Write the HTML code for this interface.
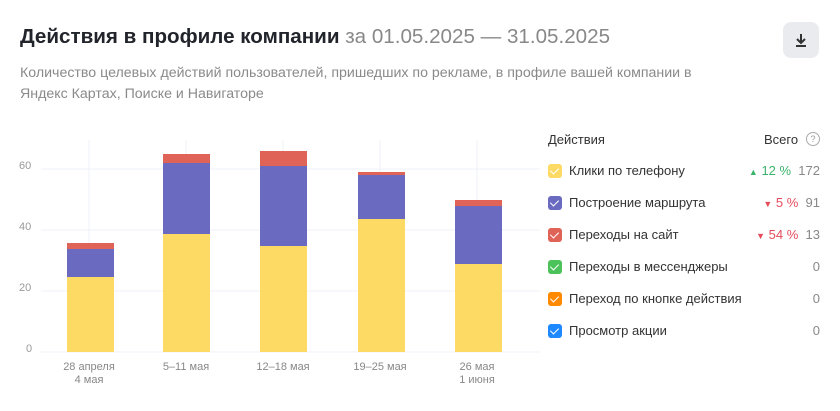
<!DOCTYPE html>
<html><head><meta charset="utf-8"><style>
body{margin:0;width:840px;height:411px;background:#fff;font-family:"Liberation Sans",sans-serif;position:relative;overflow:hidden}
.a{position:absolute;white-space:nowrap}
.t{left:20px;top:25px;font-size:20.6px;font-weight:bold;color:#21242b}
.t span{font-weight:normal;color:#888}
.s{left:20px;top:63px;font-size:14.2px;color:#8a8a8a;line-height:21px;white-space:normal;width:700px}
.btn{left:783px;top:22px;width:36px;height:36px;border-radius:8px;background:#e9ebef}
.yl{font-size:11px;color:#999;left:24px}
.xl{font-size:11px;color:#888;text-align:center;width:100px;line-height:13px}
.lh{font-size:13px;color:#333}
.cb{width:14px;height:14px;border-radius:3px;left:548px}
.cb:after{content:"";position:absolute;left:4px;top:2px;width:4px;height:7px;border:solid #fff;border-width:0 1.5px 1.5px 0;transform:rotate(45deg)}
.ln{left:569px;font-size:13px;color:#333}
.v{right:20px;font-size:13px;color:#888;text-align:right}
.up{color:#3bb36a}.dn{color:#e54b5b}
</style></head><body>
<div class="a t">Действия в профиле компании <span>за 01.05.2025 — 31.05.2025</span></div>
<div class="a s">Количество целевых действий пользователей, пришедших по рекламе, в профиле вашей компании в Яндекс Картах, Поиске и Навигаторе</div>
<div class="a btn"><svg width="36" height="36"><path d="M18 12v9M14 17l4 4 4-4M13 24h10" stroke="#333" stroke-width="2" fill="none"/></svg></div>
<svg class="a" style="left:0;top:0" width="540" height="411">
<g stroke="#eef1f8" stroke-width="1">
<line x1="41" x2="540" y1="169" y2="169"/><line x1="41" x2="540" y1="230" y2="230"/><line x1="41" x2="540" y1="291" y2="291"/><line x1="41" x2="540" y1="352" y2="352"/>
<line x1="89" x2="89" y1="140" y2="352"/><line x1="186" x2="186" y1="140" y2="352"/><line x1="283" x2="283" y1="140" y2="352"/><line x1="380" x2="380" y1="140" y2="352"/><line x1="477" x2="477" y1="140" y2="352"/>
</g>
<g>
<rect x="67" y="277" width="47" height="75" fill="#fdda63"/><rect x="67" y="249" width="47" height="28" fill="#6a6bc0"/><rect x="67" y="243" width="47" height="6" fill="#e06358"/>
<rect x="163" y="234" width="47" height="118" fill="#fdda63"/><rect x="163" y="163" width="47" height="71" fill="#6a6bc0"/><rect x="163" y="154" width="47" height="9" fill="#e06358"/>
<rect x="260" y="246" width="47" height="106" fill="#fdda63"/><rect x="260" y="166" width="47" height="80" fill="#6a6bc0"/><rect x="260" y="151" width="47" height="15" fill="#e06358"/>
<rect x="358" y="219" width="47" height="133" fill="#fdda63"/><rect x="358" y="175" width="47" height="44" fill="#6a6bc0"/><rect x="358" y="172" width="47" height="3" fill="#e06358"/>
<rect x="455" y="264" width="47" height="88" fill="#fdda63"/><rect x="455" y="206" width="47" height="58" fill="#6a6bc0"/><rect x="455" y="200" width="47" height="6" fill="#e06358"/>
</g></svg>
<div class="a yl" style="top:160px;left:19px">60</div>
<div class="a yl" style="top:221px;left:19px">40</div>
<div class="a yl" style="top:282px;left:19px">20</div>
<div class="a yl" style="top:343px;left:26px">0</div>
<div class="a xl" style="left:39px;top:361px">28 апреля<br>4 мая</div>
<div class="a xl" style="left:136px;top:361px">5–11 мая</div>
<div class="a xl" style="left:233px;top:361px">12–18 мая</div>
<div class="a xl" style="left:330px;top:361px">19–25 мая</div>
<div class="a xl" style="left:427px;top:361px">26 мая<br>1 июня</div>
<div class="a lh" style="left:548px;top:132px">Действия</div>
<div class="a lh" style="left:764px;top:132px">Всего</div>
<div class="a" style="left:806px;top:132px;width:12px;height:12px;border:1px solid #aaa;border-radius:50%;font-size:9px;color:#999;text-align:center;line-height:12px">?</div>
<div class="a cb" style="top:164px;background:#fdda63"></div><div class="a ln" style="top:163px">Клики по телефону</div><div class="a v" style="top:163px"><span class="up" style="font-size:9px">▲</span> <span class="up">12 %</span>&nbsp; 172</div>
<div class="a cb" style="top:196px;background:#6a6bc0"></div><div class="a ln" style="top:195px">Построение маршрута</div><div class="a v" style="top:195px"><span class="dn" style="font-size:9px">▼</span> <span class="dn">5 %</span>&nbsp; 91</div>
<div class="a cb" style="top:228px;background:#e06358"></div><div class="a ln" style="top:227px">Переходы на сайт</div><div class="a v" style="top:227px"><span class="dn" style="font-size:9px">▼</span> <span class="dn">54 %</span>&nbsp; 13</div>
<div class="a cb" style="top:260px;background:#4cc25a"></div><div class="a ln" style="top:259px">Переходы в мессенджеры</div><div class="a v" style="top:259px">0</div>
<div class="a cb" style="top:292px;background:#ff8a00"></div><div class="a ln" style="top:291px">Переход по кнопке действия</div><div class="a v" style="top:291px">0</div>
<div class="a cb" style="top:324px;background:#1e88ff"></div><div class="a ln" style="top:323px">Просмотр акции</div><div class="a v" style="top:323px">0</div>
</body></html>
